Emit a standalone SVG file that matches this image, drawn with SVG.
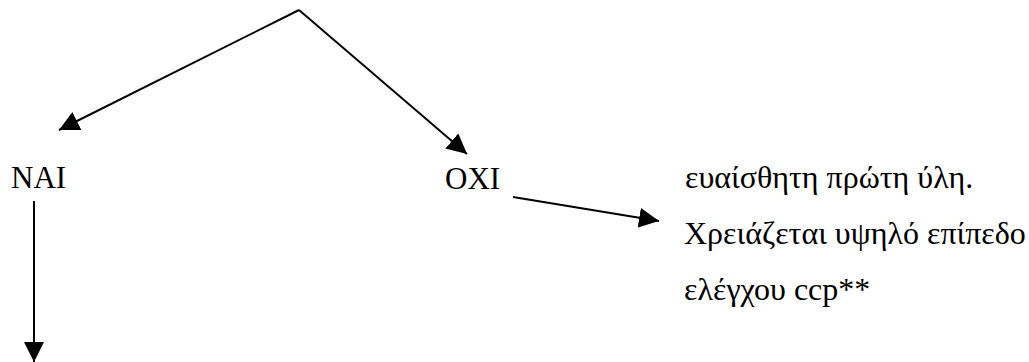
<svg xmlns="http://www.w3.org/2000/svg" width="1029" height="362" viewBox="0 0 1029 362">
  <style>
    .c { stroke: #000; stroke-width: 2; fill: none; marker-end: url(#ah); }
  </style>
  <defs>
    <marker id="ah" viewBox="0 0 20 20" refX="20" refY="10" markerWidth="20" markerHeight="20" markerUnits="userSpaceOnUse" orient="auto">
      <path d="M0,0 L20,10 L0,20 z" fill="#000"/>
    </marker>
  </defs>
  <rect width="1029" height="362" fill="#fff"/>
  <g id="connectors">
    <line class="c" x1="299" y1="10" x2="59" y2="130"/>
    <line class="c" x1="299" y1="10" x2="467" y2="154"/>
    <line class="c" x1="513" y1="197" x2="659" y2="221"/>
    <line class="c" x1="34" y1="201" x2="34" y2="362"/>
  </g>
  <g id="nai" font-family="Liberation Serif" font-size="31" fill="#000">
    <text x="11" y="188">NAI</text>
  </g>
  <g id="oxi" font-family="Liberation Serif" font-size="31" fill="#000">
    <text x="445" y="189">OXI</text>
  </g>
  <g id="note" font-family="Liberation Serif" font-size="32" fill="#000">
    <text x="685" y="188">ευαίσθητη πρώτη ύλη.</text>
    <text x="684" y="244">Χρειάζεται υψηλό επίπεδο</text>
    <text x="684" y="300">ελέγχου ccp**</text>
  </g>
</svg>
